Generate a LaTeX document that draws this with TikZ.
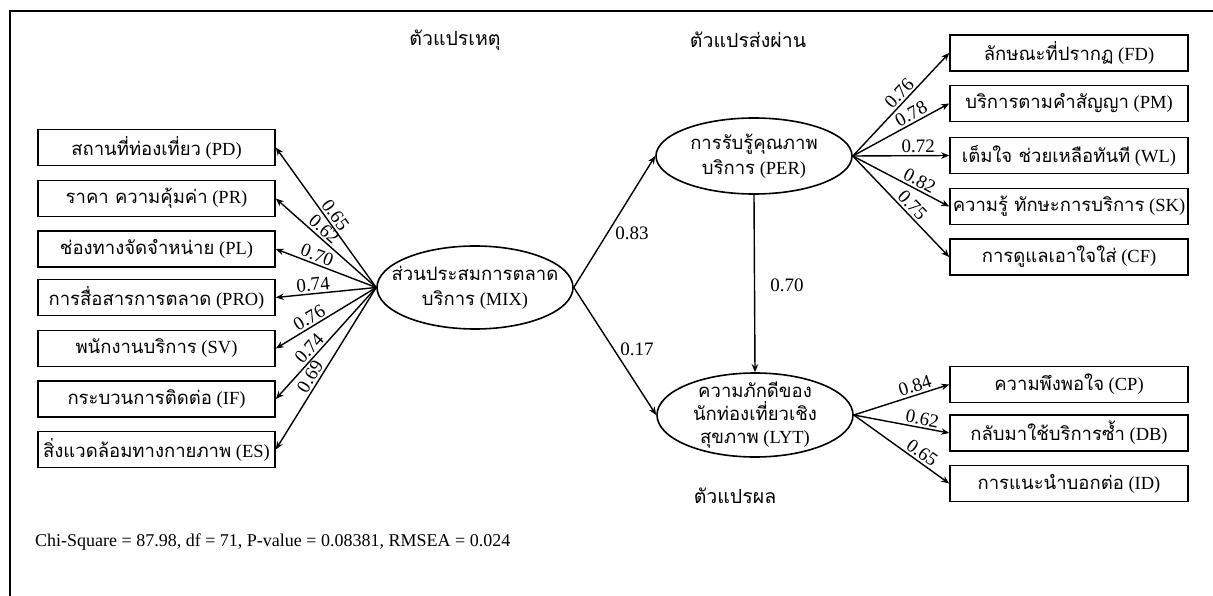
\documentclass[tikz,border=0pt]{standalone}
\usepackage{fontspec}
\setmainfont{Liberation Serif}
\newfontfamily\thaifont[Script=Thai]{Loma}
\usetikzlibrary{arrows.meta,shapes.geometric}
\newcommand\thx[1]{{\thaifont #1}}
\tikzset{
  obs/.style={draw, line width=1.6pt, minimum width=237pt, minimum height=36pt, inner sep=0pt, font=\fontsize{18.5}{21}\selectfont},
  lat/.style={draw, ellipse, line width=1.6pt, inner sep=0pt},
  lattext/.style={align=center, font=\fontsize{18.5}{25}\selectfont},
  path/.style={line width=1.4pt, -{Stealth[length=8pt,width=6.5pt]}},
  coef/.style={sloped, above=1.5pt, inner sep=0.5pt, font=\fontsize{19}{20}\selectfont},
  hcoef/.style={inner sep=1pt, font=\fontsize{19}{20}\selectfont},
  head/.style={font=\fontsize{19.5}{22}\selectfont\thaifont},
  frame/.style={line width=1.6pt}
}
\begin{document}
\begin{tikzpicture}[x=1pt,y=-1pt]
\useasboundingbox (0,0) rectangle (1213,596);
\draw[frame] (10,596) -- (10,11) -- (1213,11);

% headers
\node[head] (h1) at (455,40) {ตัวแปรเหตุ};
\node[head] (h2) at (748,40) {ตัวแปรส่งผ่าน};
\node[head] (h3) at (735,496) {ตัวแปรผล};

% latent variables
\node[lat, minimum width=196pt, minimum height=83pt,
  label={[lattext]center:\thx{ส่วนประสมการตลาด}\\\thx{บริการ} (MIX)}] (MIX) at (475,287.5) {};
\node[lat, minimum width=196pt, minimum height=76pt,
  label={[lattext]center:\thx{การรับรู้คุณภาพ}\\\thx{บริการ} (PER)}] (PER) at (754,156) {};
\node[lat, minimum width=196pt, minimum height=84pt,
  label={[lattext, font=\fontsize{18.5}{23}\selectfont]center:\thx{ความภักดีของ}\\\thx{นักท่องเที่ยวเชิง}\\\thx{สุขภาพ} (LYT)}] (LYT) at (755,415) {};

% left indicators
\node[obs] (PD)  at (156.5,147.5) {\thx{สถานที่ท่องเที่ยว} (PD)};
\node[obs] (PR)  at (156.5,198.5) {\thx{ราคา ความคุ้มค่า} (PR)};
\node[obs] (PL)  at (156.5,249)   {\thx{ช่องทางจัดจำหน่าย} (PL)};
\node[obs] (PRO) at (156.5,297.5) {\thx{การสื่อสารการตลาด} (PRO)};
\node[obs] (SV)  at (156.5,348.5) {\thx{พนักงานบริการ} (SV)};
\node[obs] (IF)  at (156.5,399)   {\thx{กระบวนการติดต่อ} (IF)};
\node[obs] (ES)  at (156.5,449.5) {\thx{สิ่งแวดล้อมทางกายภาพ} (ES)};

% right indicators PER
\node[obs, minimum width=238pt] (FD) at (1069,53)    {\thx{ลักษณะที่ปรากฏ} (FD)};
\node[obs, minimum width=238pt] (PM) at (1069,103.5) {\thx{บริการตามคำสัญญา} (PM)};
\node[obs, minimum width=238pt] (WL) at (1069,155.5) {\thx{เต็มใจ ช่วยเหลือทันที} (WL)};
\node[obs, minimum width=238pt] (SK) at (1069,206.5) {\thx{ความรู้ ทักษะการบริการ} (SK)};
\node[obs, minimum width=238pt] (CF) at (1069,257)   {\thx{การดูแลเอาใจใส่} (CF)};

% right indicators LYT
\node[obs, minimum width=238pt] (CP) at (1069,384.5) {\thx{ความพึงพอใจ} (CP)};
\node[obs, minimum width=238pt] (DB) at (1069,433)   {\thx{กลับมาใช้บริการซ้ำ} (DB)};
\node[obs, minimum width=238pt] (ID) at (1069,483.5) {\thx{การแนะนำบอกต่อ} (ID)};

% MIX loadings
\draw[path] (MIX.west) -- node[coef, pos=0.48] {0.65} (PD.east);
\draw[path] (MIX.west) -- node[coef, pos=0.58] {0.62} (PR.east);
\draw[path] (MIX.west) -- node[coef, pos=0.62] {0.70} (PL.east);
\draw[path] (MIX.west) -- node[coef, pos=0.62] {0.74} (PRO.east);
\draw[path] (MIX.west) -- node[coef, pos=0.62] {0.76} (SV.east);
\draw[path] (MIX.west) -- node[coef, pos=0.6] {0.74} (IF.east);
\draw[path] (MIX.west) -- node[coef, pos=0.58] {0.69} (ES.east);

% PER loadings
\draw[path] (PER.east) -- node[coef, pos=0.55] {0.76} (FD.west);
\draw[path] (PER.east) -- node[coef, pos=0.65] {0.78} (PM.west);
\draw[path] (PER.east) -- node[coef, pos=0.68] {0.72} (WL.west);
\draw[path] (PER.east) -- node[coef, pos=0.65] {0.82} (SK.west);
\draw[path] (PER.east) -- node[coef, pos=0.55] {0.75} (CF.west);

% LYT loadings
\draw[path] (LYT.east) -- node[coef, pos=0.67] {0.84} (CP.west);
\draw[path] (LYT.east) -- node[coef, pos=0.7] {0.62} (DB.west);
\draw[path] (LYT.east) -- node[coef, pos=0.66] {0.65} (ID.west);

% structural paths
\draw[path] (MIX.east) -- (PER.west);
\draw[path] (MIX.east) -- (LYT.west);
\draw[path] (PER.south) -- (LYT.north);
\node[hcoef] (c1) at (632,233) {0.83};
\node[hcoef] (c2) at (637,349) {0.17};
\node[hcoef] (c3) at (787,285) {0.70};

% fit statistics
\node[anchor=west, inner sep=0pt, font=\fontsize{18}{20}\selectfont] (fit) at (35,542) {Chi-Square = 87.98, df = 71, P-value = 0.08381, RMSEA = 0.024};
\end{tikzpicture}
\end{document}
